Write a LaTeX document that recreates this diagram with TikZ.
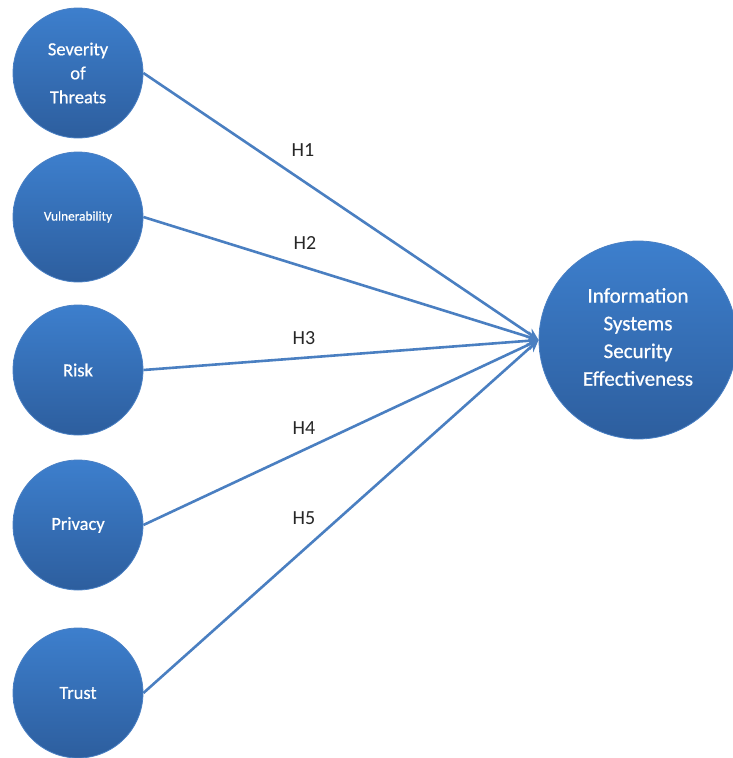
\documentclass[tikz,border=0pt]{standalone}
\usepackage{fontspec}
\setmainfont{Carlito}
\usetikzlibrary{arrows.meta,shadings}
\definecolor{ctop}{HTML}{3D7FCD}
\definecolor{cbot}{HTML}{2D5E9E}
\definecolor{cedge}{HTML}{4A80C4}
\definecolor{cline}{HTML}{4A7FC1}
\tikzset{
  factor/.style={circle, minimum size=130pt, inner sep=0pt, top color=ctop, bottom color=cbot, draw=cedge, line width=0.8pt, text=white, align=center, font=\fontsize{18.5}{24}\selectfont\addfontfeature{FakeBold=0.6}},
  outcome/.style={factor, minimum size=198pt, font=\fontsize{21}{27.7}\selectfont\addfontfeature{FakeBold=0.6}},
  link/.style={draw=cline, line width=2.6pt, -{Stealth[length=12pt,width=11pt]}},
  hlabel/.style={font=\fontsize{20}{22}\selectfont, text=black!85}
}
\begin{document}
\begin{tikzpicture}[x=1pt,y=-1pt]
\useasboundingbox (0,0) rectangle (732,758);
\node[factor] (sev) at (78,73) {Severity\\of\\Threats};
\node[factor, font=\fontsize{13.3}{15}\selectfont\addfontfeature{FakeBold=0.6}] (vul) at (78,217) {Vulnerability};
\node[factor] (risk) at (78,370) {Risk};
\node[factor] (priv) at (78,525) {Privacy};
\node[factor] (trust) at (78,693) {Trust};
\node[outcome] (isse) at (638,340) {};
\node[text=white, align=center, font=\fontsize{21}{27.7}\selectfont\addfontfeature{FakeBold=0.6}] (isset) at (638,337) {Information\\Systems\\Security\\Effectiveness};
\coordinate (tip) at (isse.west);
\draw[link] (sev.east) -- (tip);
\draw[link] (vul.east) -- (tip);
\draw[link] (risk.east) -- (tip);
\draw[link] (priv.east) -- (tip);
\draw[link] (trust.east) -- (tip);
\node[hlabel] (h1) at (303,150) {H1};
\node[hlabel] (h2) at (305,243) {H2};
\node[hlabel] (h3) at (304,338) {H3};
\node[hlabel] (h4) at (304,428) {H4};
\node[hlabel] (h5) at (304,518) {H5};
\end{tikzpicture}
\end{document}
